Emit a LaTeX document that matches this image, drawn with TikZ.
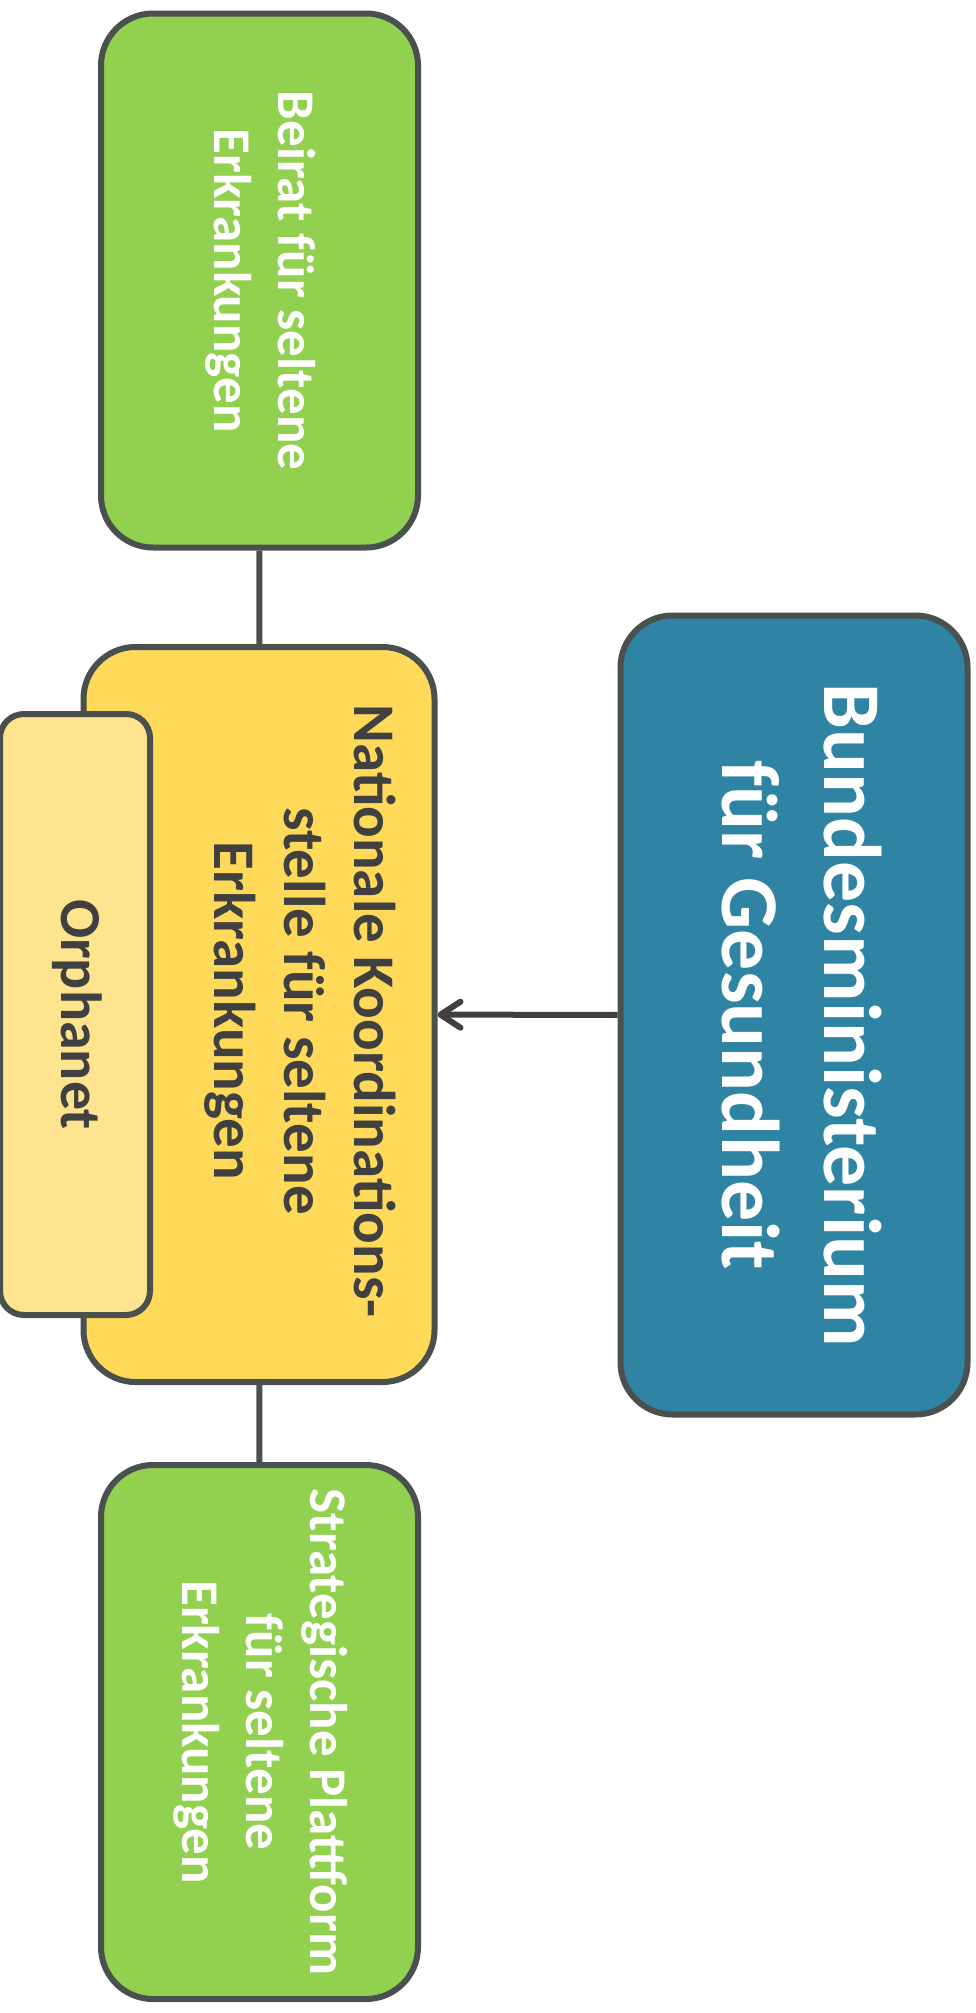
\documentclass[tikz,border=0pt]{standalone}
\usepackage{fontspec}
\setmainfont{Carlito}
\usetikzlibrary{arrows.meta}
\definecolor{EdgeGray}{RGB}{73,80,77}
\definecolor{TextGray}{RGB}{64,64,64}
\definecolor{LeafGreen}{RGB}{146,208,80}
\definecolor{SunYellow}{RGB}{255,217,90}
\definecolor{PaleYellow}{RGB}{255,228,143}
\definecolor{MinBlue}{RGB}{47,132,163}
\newcommand{\vtext}[1]{\rotatebox{-90}{\begin{tabular}{@{}c@{}}#1\end{tabular}}}

\begin{document}
\begin{tikzpicture}[x=0.5pt, y=-0.5pt,
box/.style={draw=EdgeGray, line width=3pt, rounded corners=26pt, inner sep=0pt,
font=\bfseries},
green/.style={box, fill=LeafGreen, text=white, minimum width=158.5pt, minimum height=267pt,
font=\bfseries\fontsize{26.5}{32}\selectfont},
line/.style={draw=EdgeGray, line width=3pt},
arrow/.style={draw=TextGray, line width=3pt, -{Straight Barb[length=10pt, width=13pt, round]}}]
\useasboundingbox (0,0) rectangle (975,2013);
\node[green] (beirat) at (259.5,280.5) {\vtext{Beirat für seltene\\Erkrankungen}};
\node[box, fill=SunYellow, minimum width=175.5pt, minimum height=367.5pt] (nks) at (259,1014.5) {};
\node[text=TextGray, font=\bfseries\fontsize{29.5}{35}\selectfont] (nkstext) at (298,1011)
  {\vtext{Nationale Koordinations-\\stelle für seltene\\Erkrankungen}};
\node[box, rounded corners=12pt, fill=PaleYellow, text=TextGray, minimum width=75pt, minimum height=300.5pt,
font=\bfseries\fontsize{29}{35}\selectfont] (orpha) at (75,1014.5) {\vtext{Orphanet}};
\node[box, fill=MinBlue, text=white, minimum width=173.5pt, minimum height=399.5pt,
font=\bfseries\fontsize{41}{51}\selectfont] (bmg) at (794,1015) {\vtext{Bundesministerium\\für Gesundheit}};
\node[green] (platt) at (259.5,1732) {\vtext{Strategische Plattform\\für seltene\\Erkrankungen}};
\draw[line] (beirat) -- (nks);
\draw[line] (nks) -- (platt);
\draw[arrow] (bmg) -- (nks);
\end{tikzpicture}
\end{document}
